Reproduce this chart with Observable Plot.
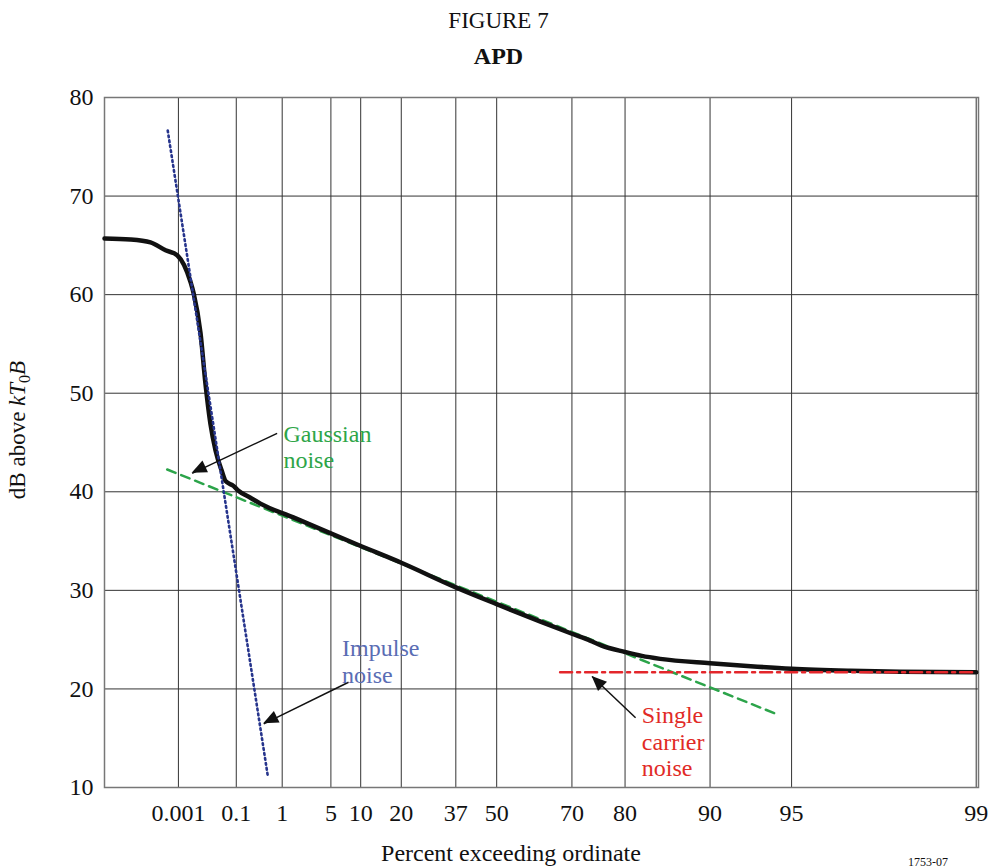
<!DOCTYPE html>
<html><head><meta charset="utf-8">
<script src="https://cdn.jsdelivr.net/npm/d3@7"></script>
<script src="https://cdn.jsdelivr.net/npm/@observablehq/plot@0.6"></script>
<style>
body{margin:0;background:#fff;}
#wrap{position:relative;width:991px;height:868px;overflow:hidden;font-family:"Liberation Serif","Times New Roman",serif;background:#fff;}
.t{position:absolute;left:3px;width:991px;text-align:center;color:#111;}
#t1{top:8.7px;font-size:23px;line-height:23px;}
#t2{top:43.9px;font-size:24px;line-height:24px;font-weight:bold;}
#chart{position:absolute;left:0;top:75px;}
</style></head><body>
<div id="wrap"><div class="t" id="t1">FIGURE 7</div><div class="t" id="t2">APD</div><div id="chart"></div></div>
<script>
// Rayleigh-paper abscissa: percent of time ordinate is exceeded
const ray = p => Math.log10(-Math.log(p / 100));

const xDomainPct = [2.5e-8, 99.02];
const tickPct = [0.001, 0.1, 1, 5, 10, 20, 37, 50, 70, 80, 90, 95, 99];
const tickLabels = ["0.001", "0.1", "1", "5", "10", "20", "37", "50", "70", "80", "90", "95", "99"];
const yTicks = [10, 20, 30, 40, 50, 60, 70, 80];

// measured APD (black)
const curvePct = [2.5e-8, 2.3e-6, 4.0e-5, 2.5e-4, 8.8e-4, 3.2e-3, 4.3e-3, 7.7e-3, 0.0115, 0.017, 0.025, 0.040, 0.050, 0.084, 0.114, 0.225, 0.377, 1.54, 10, 20, 37, 50, 70, 73.8, 76, 80, 82.5, 84.9, 90, 92.9, 95, 97, 98.05, 99];
const curveDb  = [65.7, 65.6, 65.3, 64.5, 64.0, 61.3, 60.1, 56.1, 51.0, 46.9, 44.2, 42.0, 41.1, 40.6, 40.1, 39.4, 38.8, 37.4, 34.5, 32.8, 30.3, 28.6, 25.6, 24.9, 24.4, 23.75, 23.35, 23.05, 22.6, 22.3, 22.05, 21.85, 21.75, 21.7];

// Gaussian noise (green dashed)
const gaussPct = [3.03e-4, 94.2];
const gaussDb  = [42.26, 17.54];
// Impulse noise (blue dotted)
const impPct = [3.2e-4, 0.534];
const impDb  = [76.65, 11.22];
// Single carrier noise (red dash-dot)
const carPct = [67.3, 99];
const carDb  = [21.7, 21.7];

// annotations
const noteText  = ["Gaussian\nnoise", "Impulse\nnoise", "Single\ncarrier\nnoise"];
const noteColor = ["#2ea548", "#5a6db4", "#e12a26"];
const notePct   = [1.05, 6.63, 82.5];
const noteDb    = [46.96, 25.25, 18.45];
const noteLH    = [1.09, 1.12, 1.11];
const arrowFromPct = [0.81, 7.7, 81.6];
const arrowFromDb  = [45.93, 20.68, 17.07];
const arrowToPct   = [0.00373, 0.443, 74.2];
const arrowToDb    = [41.87, 16.46, 21.26];

const labelOf = new Map(tickPct.map((p, i) => [ray(p), tickLabels[i]]));
const arrows = arrowFromPct.map((p, i) => ({p1: p, d1: arrowFromDb[i], p2: arrowToPct[i], d2: arrowToDb[i]}));

const chart = Plot.plot({
  width: 991, height: 793,
  marginLeft: 104, marginRight: 13, marginTop: 22, marginBottom: 81,
  style: {fontFamily: "Liberation Serif, Times New Roman, serif", fontSize: "24px", color: "#111", background: "#fff", overflow: "visible"},
  x: {domain: xDomainPct.map(ray), ticks: tickPct.map(ray), tickFormat: u => labelOf.get(u), tickSize: 0, tickPadding: 16, label: null},
  y: {domain: [10, 80], ticks: yTicks, tickSize: 0, tickPadding: 11, label: null},
  marks: [
    Plot.ruleX(tickPct, {x: ray, stroke: "#333", strokeWidth: 1}),
    Plot.ruleY(yTicks, {y: d => d, stroke: "#333", strokeWidth: 1}),
    Plot.frame({stroke: "#777", strokeWidth: 1.5}),
    Plot.line(gaussPct, {x: ray, y: (d, i) => gaussDb[i], stroke: "#2ca44a", strokeWidth: 2.5, strokeDasharray: "9,6"}),
    Plot.line(curvePct, {x: ray, y: (d, i) => curveDb[i], stroke: "#111", strokeWidth: 4.5, strokeLinejoin: "round", strokeLinecap: "round", curve: "monotone-x"}),
    Plot.line(impPct, {x: ray, y: (d, i) => impDb[i], stroke: "#26348c", strokeWidth: 2.6, strokeDasharray: "1.8,3.2"}),
    Plot.line(carPct, {x: ray, y: (d, i) => carDb[i], stroke: "#e3262b", strokeWidth: 2.5, strokeDasharray: "12,5,3,5"}),
    Plot.link(arrows, {x1: d => ray(d.p1), y1: "d1", x2: d => ray(d.p2), y2: "d2", stroke: "#111", strokeWidth: 1.5}),
    ...noteText.map((t, i) => Plot.text([t], {x: () => ray(notePct[i]), y: () => noteDb[i], text: d => d, fill: noteColor[i], fontSize: 24, textAnchor: "start", lineAnchor: "top", lineHeight: noteLH[i]}))
  ]
});
document.getElementById("chart").appendChild(chart);

// filled arrowheads
const X = chart.scale("x"), Y = chart.scale("y");
const svg = d3.select(chart);
arrows.forEach(a => {
  const sx = X.apply(ray(a.p1)), sy = Y.apply(a.d1), tx = X.apply(ray(a.p2)), ty = Y.apply(a.d2);
  const dx = tx - sx, dy = ty - sy, len = Math.hypot(dx, dy), ux = dx / len, uy = dy / len;
  const L = 15, W = 6.5, bx = tx - ux * L, by = ty - uy * L;
  svg.append("polygon")
    .attr("points", [[tx, ty], [bx - uy * W, by + ux * W], [bx + uy * W, by - ux * W]].map(p => p.join(",")).join(" "))
    .attr("fill", "#111");
});

// axis titles
const yl = svg.append("text").attr("transform", `translate(25,${430 - 75}) rotate(-90)`)
  .attr("text-anchor", "middle").attr("font-size", 23).attr("fill", "#111");
yl.append("tspan").text("dB above ");
yl.append("tspan").attr("font-style", "italic").text("kT");
yl.append("tspan").attr("dy", 5).attr("font-size", 16).text("0");
yl.append("tspan").attr("dy", -5).attr("font-style", "italic").text("B");

svg.append("text").attr("x", 511).attr("y", 861 - 75).attr("text-anchor", "middle")
  .attr("font-size", 24).attr("fill", "#111").text("Percent exceeding ordinate");
svg.append("text").attr("x", 928).attr("y", 866 - 75).attr("font-size", 12).attr("fill", "#111").text("1753-07");
</script>
</body></html>
